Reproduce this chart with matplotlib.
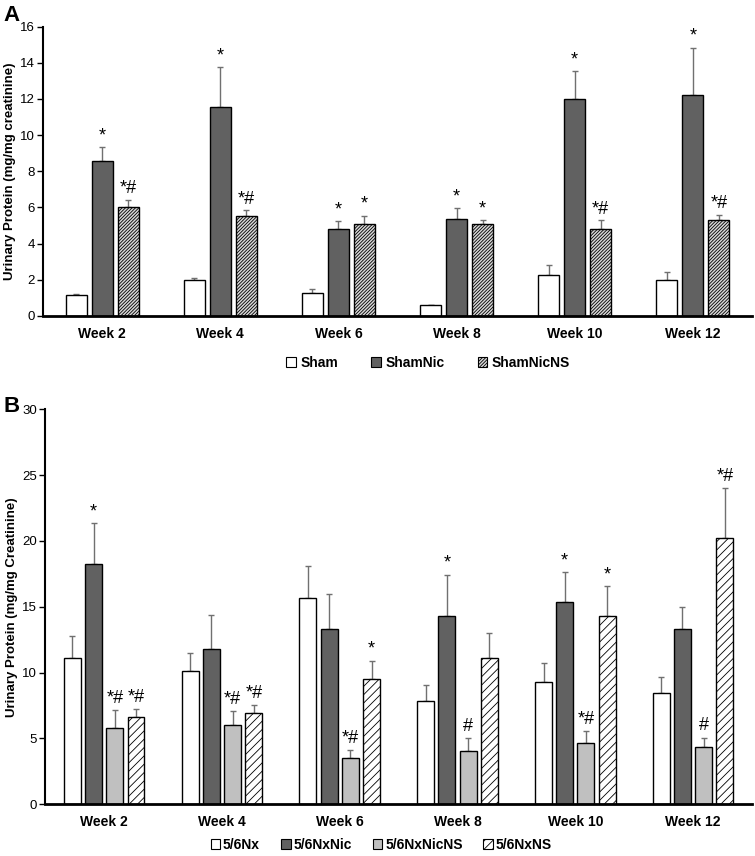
import matplotlib.pyplot as plt
import numpy as np
from matplotlib.patches import Patch

plt.rcParams['font.family'] = ['Liberation Sans', 'DejaVu Sans']
plt.rcParams['hatch.linewidth'] = 0.6

weeks = ['Week 2', 'Week 4', 'Week 6', 'Week 8', 'Week 10', 'Week 12']

# panel A
sham = [1.14, 2.01, 1.27, 0.59, 2.27, 1.99]
sham_err = [0.06, 0.06, 0.24, 0.03, 0.55, 0.45]
shamnic = [8.58, 11.57, 4.80, 5.35, 12.0, 12.23]
shamnic_err = [0.75, 2.17, 0.44, 0.63, 1.55, 2.6]
shamnicns = [6.0, 5.54, 5.06, 5.06, 4.83, 5.31]
shamnicns_err = [0.4, 0.29, 0.49, 0.22, 0.45, 0.28]
marks_a = [['', '*', '*#'], ['', '*', '*#'], ['', '*', '*'],
           ['', '*', '*'], ['', '*', '*#'], ['', '*', '*#']]

# panel B
nx = [11.13, 10.12, 15.66, 7.87, 9.26, 8.42]
nx_err = [1.65, 1.39, 2.45, 1.21, 1.44, 1.27]
nxnic = [18.26, 11.76, 13.28, 14.27, 15.38, 13.28]
nxnic_err = [3.07, 2.61, 2.66, 3.13, 2.22, 1.67]
nxnicns = [5.82, 6.05, 3.52, 4.05, 4.65, 4.35]
nxnicns_err = [1.31, 1.01, 0.6, 0.95, 0.92, 0.71]
nxns = [6.6, 6.96, 9.49, 11.08, 14.27, 20.19]
nxns_err = [0.64, 0.55, 1.41, 1.95, 2.27, 3.81]
marks_b = [['', '*', '*#', '*#'], ['', '', '*#', '*#'], ['', '', '*#', '*'],
           ['', '*', '#', ''], ['', '*', '*#', '*'], ['', '', '#', '*#']]

fig = plt.figure(figsize=(7.55, 8.56), dpi=100)
x = np.arange(len(weeks))


def panel(ax, series, errs, marks, styles, width, step, ymax, yticks, ylabel, off):
    n = len(series)
    for i, (vals, err, st) in enumerate(zip(series, errs, styles)):
        pos = x + (i - (n - 1) / 2) * step
        ax.bar(pos, vals, width, facecolor=st[0], edgecolor='black', linewidth=1.0,
               hatch=st[1], zorder=2)
        ax.errorbar(pos, vals, yerr=[np.zeros(len(vals)), err], fmt='none',
                    ecolor='#707070', elinewidth=1.0, capsize=2.5, capthick=1.0, zorder=1)
        for j in range(len(vals)):
            m = marks[j][i]
            if m:
                ax.text(pos[j], vals[j] + err[j] + off, m,
                        ha='center', va='bottom', fontsize=13)
    ax.set_xlim(-0.5, len(weeks) - 0.5)
    ax.set_ylim(0, ymax)
    ax.set_yticks(yticks)
    ax.set_xticks(x)
    ax.set_xticklabels(weeks, fontsize=10, fontweight='bold')
    ax.tick_params(axis='x', length=0, pad=8)
    ax.tick_params(axis='y', labelsize=9.5, length=4, width=1, pad=2)
    ax.spines['top'].set_visible(False)
    ax.spines['right'].set_visible(False)
    ax.spines['left'].set_linewidth(1.5)
    ax.spines['bottom'].set_linewidth(2)
    ax.set_ylabel(ylabel, fontsize=9.5, fontweight='bold', labelpad=3)


axA = fig.add_axes([0.057, 0.631, 0.939, 0.338])
stylesA = [('white', ''), ('#616161', ''), ('#d8d8d8', '//////////')]
panel(axA, [sham, shamnic, shamnicns], [sham_err, shamnic_err, shamnicns_err], marks_a,
      stylesA, 0.178, 0.22, 16, range(0, 17, 2),
      'Urinary Protein (mg/mg creatinine)', 0.15)
hA = [Patch(facecolor=c, edgecolor='black', hatch=h, linewidth=0.8) for c, h in stylesA]
fig.legend(hA, ['Sham', 'ShamNic', 'ShamNicNS'], loc='center', bbox_to_anchor=(0.567, 0.576),
           ncol=3, frameon=False, handlelength=0.7, handleheight=0.7, handletextpad=0.3,
           columnspacing=2.4, prop={'weight': 'bold', 'size': 10})

axB = fig.add_axes([0.06, 0.0604, 0.936, 0.4616])
stylesB = [('white', ''), ('#616161', ''), ('#c0c0c0', ''), ('white', '////')]
panel(axB, [nx, nxnic, nxnicns, nxns], [nx_err, nxnic_err, nxnicns_err, nxns_err], marks_b,
      stylesB, 0.144, 0.18, 30, range(0, 31, 5),
      'Urinary Protein (mg/mg Creatinine)', 0.25)
hB = [Patch(facecolor=c, edgecolor='black', hatch=h, linewidth=0.8) for c, h in stylesB]
fig.legend(hB, ['5/6Nx', '5/6NxNic', '5/6NxNicNS', '5/6NxNS'], loc='center',
           bbox_to_anchor=(0.505, 0.013), ncol=4, frameon=False, handlelength=0.7,
           handleheight=0.7, handletextpad=0.2, columnspacing=1.5,
           prop={'weight': 'bold', 'size': 10})

fig.text(0.004, 0.982, 'A', fontsize=16, fontweight='bold', va='center')
fig.text(0.004, 0.525, 'B', fontsize=16, fontweight='bold', va='center')

fig.savefig('out.png', dpi=100)
